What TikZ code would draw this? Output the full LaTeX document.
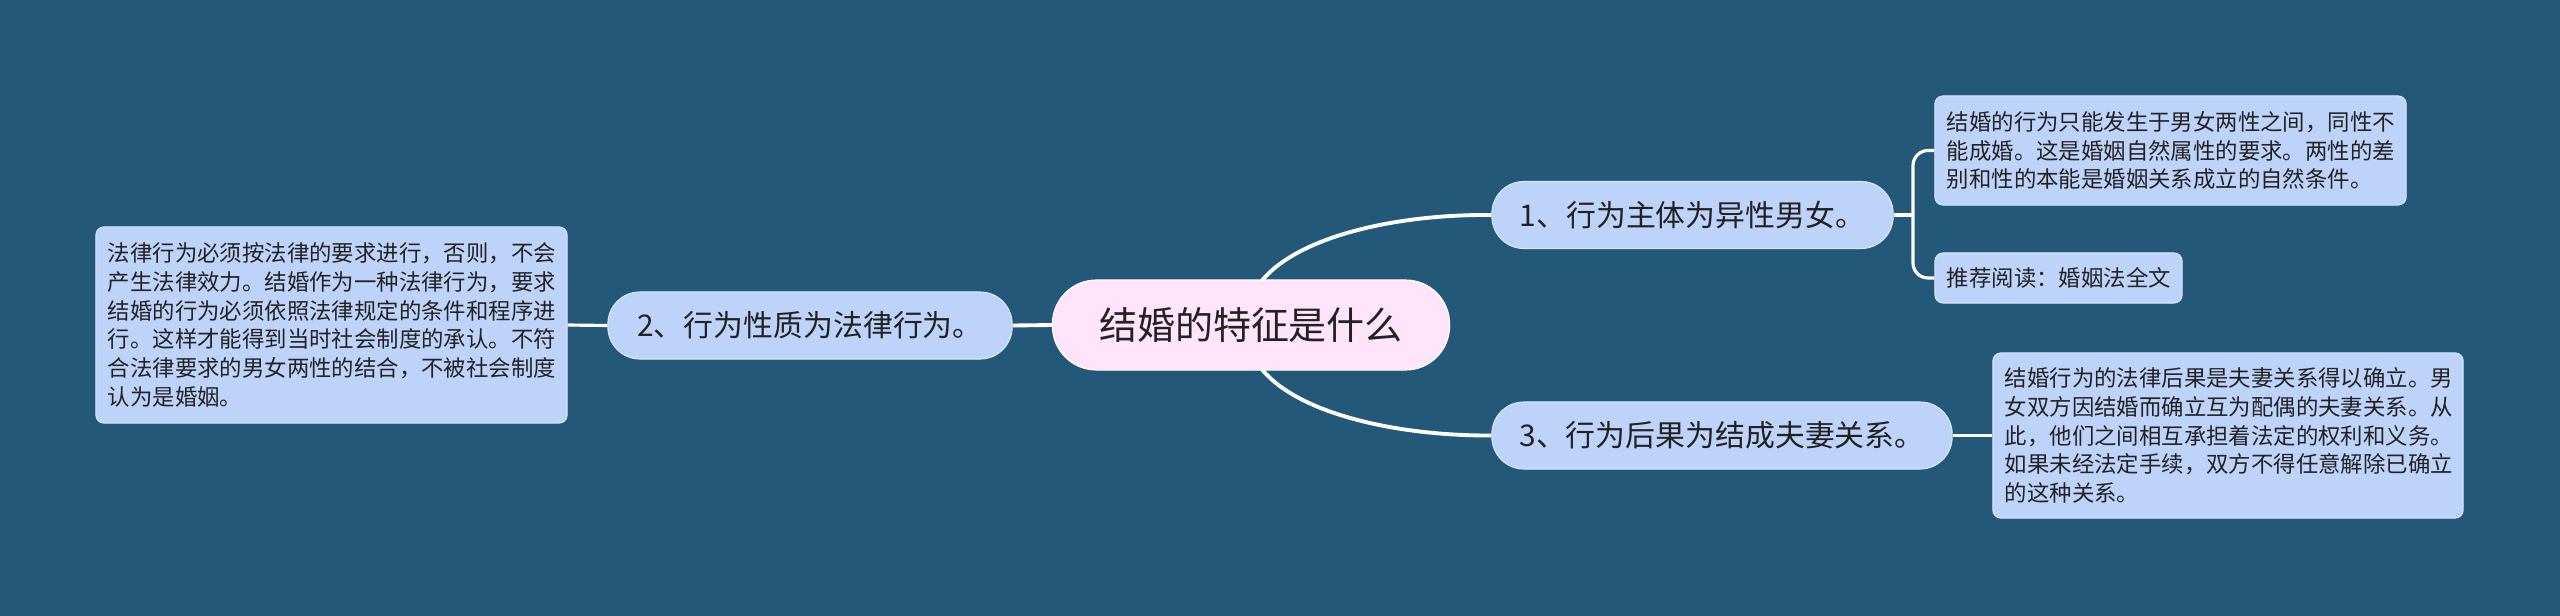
\documentclass[tikz,border=0pt]{standalone}
\usepackage{fontspec}
\newfontfamily\cjk{Noto Sans CJK SC}
\usetikzlibrary{calc}
\definecolor{bgc}{HTML}{245879}
\definecolor{rootfill}{HTML}{FFE4FA}
\definecolor{nodefill}{HTML}{BED3FA}
\definecolor{nodeedge}{HTML}{DCE7FD}
\definecolor{txt}{HTML}{222222}
\tikzset{
  rootbox/.style={draw=white, line width=0.3pt, fill=rootfill, rounded corners=0.44cm,
    minimum width=3.97cm, minimum height=0.9cm, inner sep=0pt, text=txt,
    font=\cjk\fontsize{10.8pt}{13pt}\selectfont},
  mainbox/.style={draw=nodeedge, line width=0.3pt, fill=nodefill, rounded corners=0.32cm,
    minimum height=0.67cm, inner sep=0pt, text=txt,
    font=\cjk\fontsize{8.5pt}{10pt}\selectfont},
  leafbox/.style={draw=nodeedge, line width=0.3pt, fill=nodefill, rounded corners=0.08cm,
    inner xsep=0.12cm, inner ysep=0pt, text=txt, align=left,
    font=\cjk\fontsize{6.37pt}{8.15pt}\selectfont},
  conn/.style={draw=white, line width=1.1pt},
  thinconn/.style={draw=white, line width=0.9pt},
}
\begin{document}
\begin{tikzpicture}[x=0.01cm, y=-0.01cm]
\useasboundingbox (0,0) rectangle (2560,615);
\fill[bgc] (-20,-20) rectangle (2580,635);

\node[rootbox] (root) at (1251,325) {结婚的特征是什么};
\node[mainbox, minimum width=4.01cm] (n1) at (1692.5,215) {1、行为主体为异性男女。};
\node[mainbox, minimum width=4.04cm] (n2) at (810,325.5) {2、行为性质为法律行为。};
\node[mainbox, minimum width=4.60cm] (n3) at (1722,435.5) {3、行为后果为结成夫妻关系。};

\node[leafbox, text width=4.47cm, minimum height=1.09cm] (l1a) at (2170.5,150.5)
  {结婚的行为只能发生于男女两性之间，同性不\\能成婚。这是婚姻自然属性的要求。两性的差\\别和性的本能是婚姻关系成立的自然条件。};
\node[leafbox, text width=2.23cm, minimum height=0.50cm] (l1b) at (2058.5,278)
  {推荐阅读：婚姻法全文};
\node[leafbox, text width=4.46cm, minimum height=1.65cm] (l3a) at (2228,435.5)
  {结婚行为的法律后果是夫妻关系得以确立。男\\女双方因结婚而确立互为配偶的夫妻关系。从\\此，他们之间相互承担着法定的权利和义务。\\如果未经法定手续，双方不得任意解除已确立\\的这种关系。};
\node[leafbox, text width=4.47cm, minimum height=1.96cm] (l2a) at (331.5,325)
  {法律行为必须按法律的要求进行，否则，不会\\产生法律效力。结婚作为一种法律行为，要求\\结婚的行为必须依照法律规定的条件和程序进\\行。这样才能得到当时社会制度的承认。不符\\合法律要求的男女两性的结合，不被社会制度\\认为是婚姻。};

% connectors
\path[conn] ($(root.north)+(11,1)$) .. controls (1300,235) and (1400,214) .. (n1.west);
\path[conn] ($(root.south)+(11,-1)$) .. controls (1300,415) and (1400,436) .. (n3.west);
\path[conn] (root.west) -- (n2.east);
\path[thinconn] (n2.west) -- (l2a.east);
\path[thinconn] (n3.east) -- (l3a.west);
\coordinate (br) at (1913,215);
\path[thinconn] (n1.east) -- (br);
\path[thinconn, rounded corners=0.15cm] (l1a.west) -| (br) |- (l1b.west);
\end{tikzpicture}
\end{document}
